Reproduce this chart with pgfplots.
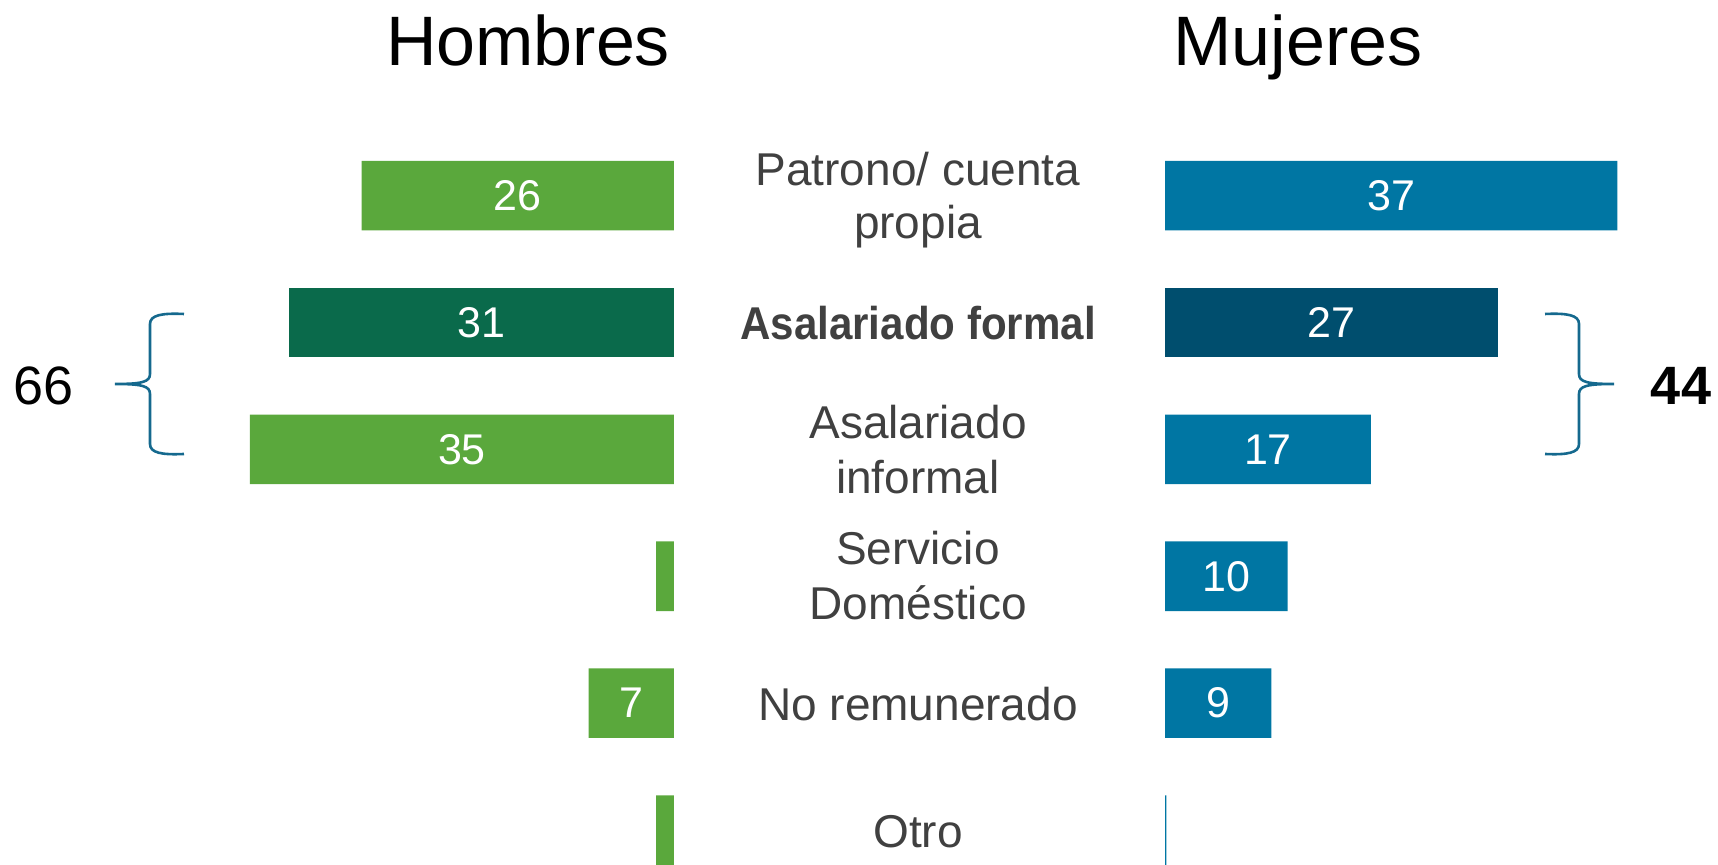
\documentclass[border=0pt]{standalone}
\usepackage{pgfplots}
\pgfplotsset{compat=1.18}
\usepackage{pgfplotstable}
\usepackage{fontspec}
\setmainfont{Liberation Sans}
\newfontfamily\narrowfont[FakeStretch=0.915]{Liberation Sans}
\definecolor{lgreen}{HTML}{5AA83C}
\definecolor{dgreen}{HTML}{0A6A4B}
\definecolor{lblue}{HTML}{0076A3}
\definecolor{dblue}{HTML}{004E6E}
\definecolor{brace}{HTML}{15698E}
\definecolor{txt}{HTML}{404040}

% Hombres
\pgfplotstableread{
y v
0 25.54
2 34.67
3 1.47
4 6.99
5 1.47
}\menlight
\pgfplotstableread{
y v
1 31.45
}\mendark
\pgfplotstableread{
y v lab
0 25.54 26
1 31.45 31
2 34.67 35
4 6.99 7
}\menlab
% Mujeres
\pgfplotstableread{
y v
0 37.0
2 16.84
3 10.03
4 8.69
5 0.12
}\womlight
\pgfplotstableread{
y v
1 27.23
}\womdark
\pgfplotstableread{
y v lab
0 37.0 37
1 27.23 27
2 16.84 17
3 10.03 10
4 8.69 9
}\womlab

\begin{document}
\begin{tikzpicture}
\useasboundingbox (0,0) rectangle (859pt,432.5pt);
\pgfplotsset{
  common/.style={scale only axis, hide axis, height=432.5pt,
    ymin=-1.541, ymax=5.275, y dir=reverse, clip=false, xmin=0,
    /pgf/number format/assume math mode=true},
  barsty/.style={xbar, bar width=34.8pt, bar shift=0pt, draw=none, fill=#1},
  labsty/.style={draw=none, mark=none, nodes near coords, point meta=explicit,
    nodes near coords align=center,
    every node near coord/.append style={anchor=center, text=white,
      font=\fontsize{21.5}{24}\selectfont}},
}
% Left axis (Hombres)
\begin{axis}[common, at={(0pt,0pt)}, anchor=south west, width=337pt,
  xmax=55.11, x dir=reverse]
\addplot[barsty=lgreen] table[x=v, y=y] {\menlight};
\addplot[barsty=dgreen] table[x=v, y=y] {\mendark};
\addplot[labsty] table[x expr=\thisrow{v}/2, y=y, meta=lab] {\menlab};
\end{axis}
% Right axis (Mujeres)
\begin{axis}[common, at={(582.5pt,0pt)}, anchor=south west, width=276.5pt,
  xmax=45.22]
\addplot[barsty=lblue] table[x=v, y=y] {\womlight};
\addplot[barsty=dblue] table[x=v, y=y] {\womdark};
\addplot[labsty] table[x expr=\thisrow{v}/2, y=y, meta=lab] {\womlab};
\end{axis}

\begin{scope}[x=0.5pt, y=-0.5pt, shift={(0pt,432.5pt)}]
  % titles
  \node[anchor=base, inner sep=0pt, font=\fontsize{35}{40}\selectfont] at (528,66) {Hombres};
  \node[anchor=base, inner sep=0pt, font=\fontsize{35}{40}\selectfont] at (1298,66) {Mujeres};
  % category labels
  \begin{scope}[every node/.style={anchor=base, inner sep=0pt, text=txt,
      font=\fontsize{23}{27}\selectfont}]
    \node at (918,186) {Patrono/ cuenta};
    \node at (918,239) {propia};
    \node[font=\fontsize{23}{27}\selectfont\narrowfont\bfseries] at (918,340) {Asalariado formal};
    \node at (918,439) {Asalariado};
    \node at (918,494) {informal};
    \node at (918,565) {Servicio};
    \node at (918,620) {Doméstico};
    \node at (918,721) {No remunerado};
    \node at (918,848) {Otro};
  \end{scope}
  % braces
  \draw[brace, line width=1.3pt]
    (184,314) .. controls (162,313) and (150,315) .. (150,324)
    -- (150,374) .. controls (150,382) and (142,384) .. (115,384)
    .. controls (142,384) and (150,386) .. (150,394)
    -- (150,444) .. controls (150,453) and (162,455) .. (184,454);
  \draw[brace, line width=1.3pt]
    (1545,314) .. controls (1567,313) and (1579,315) .. (1579,324)
    -- (1579,374) .. controls (1579,382) and (1587,384) .. (1614,384)
    .. controls (1587,384) and (1579,386) .. (1579,394)
    -- (1579,444) .. controls (1579,453) and (1567,455) .. (1545,454);
  \node[anchor=base, inner sep=0pt, font=\fontsize{27}{30}\selectfont] at (44,405) {66};
  \node[anchor=base, inner sep=0pt, font=\fontsize{27}{30}\selectfont\bfseries] at (1681,405) {44};
\end{scope}
\end{tikzpicture}
\end{document}
